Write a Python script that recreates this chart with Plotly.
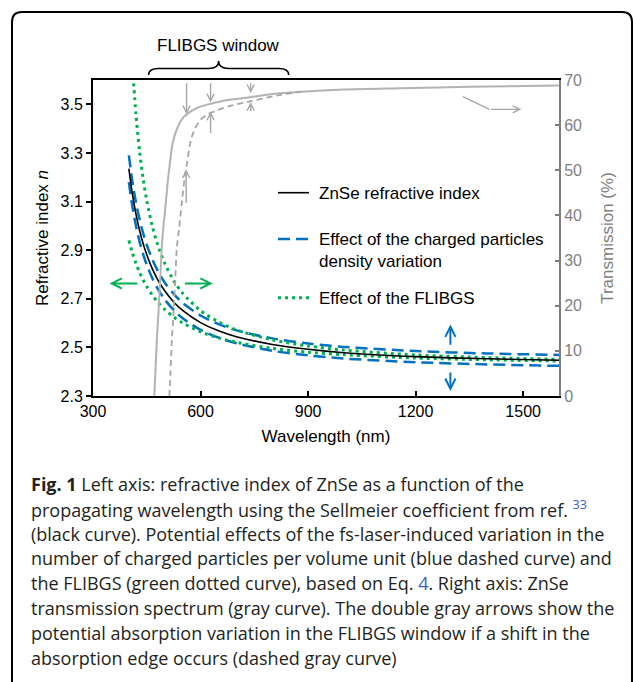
import plotly.graph_objects as go

# ---------------- data ----------------
WL = [400, 410, 420, 430, 440, 450, 465, 480, 500, 525, 550, 600, 650, 700,
      800, 900, 1000, 1200, 1400, 1600]
N_ZNSE = [3.235, 3.130, 3.047, 2.981, 2.926, 2.881, 2.825, 2.780, 2.733, 2.687,
          2.652, 2.602, 2.568, 2.544, 2.512, 2.492, 2.478, 2.462, 2.453, 2.447]
N_CHARGE_UP = [3.290, 3.181, 3.095, 3.026, 2.969, 2.922, 2.864, 2.817, 2.767, 2.720,
               2.683, 2.631, 2.596, 2.570, 2.537, 2.516, 2.502, 2.485, 2.475, 2.469]
N_CHARGE_LO = [3.180, 3.078, 2.999, 2.935, 2.883, 2.839, 2.786, 2.743, 2.697, 2.654,
               2.620, 2.572, 2.540, 2.517, 2.486, 2.467, 2.454, 2.439, 2.430, 2.424]
WL_FLIBGS_UP = [412, 420, 430, 440, 450, 465, 480, 500, 525, 550, 600, 650, 700,
                800, 900, 1000, 1200, 1400, 1600]
N_FLIBGS_UP = [3.616, 3.456, 3.306, 3.193, 3.104, 3.001, 2.924, 2.846, 2.775, 2.723,
               2.651, 2.605, 2.572, 2.531, 2.506, 2.489, 2.469, 2.458, 2.451]
N_FLIBGS_LO = [2.940, 2.888, 2.845, 2.808, 2.777, 2.750, 2.716, 2.687, 2.656, 2.625,
               2.601, 2.564, 2.539, 2.521, 2.496, 2.480, 2.470, 2.456, 2.449, 2.444]

WL_T = [471, 474, 478, 483, 487, 492, 497, 501, 508, 515, 521, 529, 540, 552, 565,
        580, 600, 627, 664, 700, 740, 800, 880, 1000, 1160, 1350, 1600]
T_ZNSE = [0, 5, 12.4, 19, 25, 33, 38, 41, 47, 52, 55.5, 58, 60.2, 61.7, 62.6,
          63.4, 64.1, 64.7, 65.4, 65.8, 66.2, 66.9, 67.4, 67.9, 68.2, 68.5, 68.8]
WL_T_SHIFT = [513, 516, 520, 525, 529, 534, 540, 548, 556, 562, 570, 576, 585, 600,
              620, 647, 680, 740, 815, 880]
T_SHIFT = [0, 5, 12.4, 19, 25, 33, 37, 43, 48.5, 51.5, 55.5, 57.5, 59.3, 61.2,
           62.4, 63.3, 64.2, 65.3, 66.6, 67.4]

X_TICKS = [300, 600, 900, 1200, 1500]
Y_TICKS = [2.3, 2.5, 2.7, 2.9, 3.1, 3.3, 3.5]
Y2_TICKS = [0, 10, 20, 30, 40, 50, 60, 70]

LEGEND = ["ZnSe refractive index",
          "Effect of the charged particles<br>density variation",
          "Effect of the FLIBGS"]

CAPTION = [
    "<b>Fig. 1</b> Left axis: refractive index of ZnSe as a function of the",
    "propagating wavelength using the Sellmeier coefficient from ref. <span style='color:#3a5fcd'><sup>33</sup></span>",
    "(black curve). Potential effects of the fs-laser-induced variation in the",
    "number of charged particles per volume unit (blue dashed curve) and",
    "the FLIBGS (green dotted curve), based on Eq. <span style='color:#3a5fcd'>4</span>. Right axis: ZnSe",
    "transmission spectrum (gray curve). The double gray arrows show the",
    "potential absorption variation in the FLIBGS window if a shift in the",
    "absorption edge occurs (dashed gray curve)",
]

# ---------------- styling ----------------
BLACK = "#000000"
BLUE = "#0070c0"
GREEN = "#00b050"
GRAY = "#b3b3b3"
GRAY_D = "#a6a6a6"
AXGRAY = "#7f7f7f"
FONT = "Arial, Liberation Sans, sans-serif"
CAPFONT = "Open Sans, Noto Sans, sans-serif"

W, H = 633, 682
L, R, T, B = 93, 559, 80, 396


def pxx(x):
    return (x - L) / (R - L)


def pxy(y):
    return (B - y) / (B - T)


fig = go.Figure()

spl = dict(shape="spline", smoothing=0.8)
fig.add_trace(go.Scatter(x=WL_T, y=T_ZNSE, yaxis="y2", mode="lines",
                         line=dict(color=GRAY, width=2, **spl), showlegend=False))
fig.add_trace(go.Scatter(x=WL_T_SHIFT, y=T_SHIFT, yaxis="y2", mode="lines",
                         line=dict(color=GRAY_D, width=1.8, dash="6px,4px", **spl),
                         showlegend=False))
fig.add_trace(go.Scatter(x=WL, y=N_CHARGE_UP, mode="lines",
                         line=dict(color=BLUE, width=2.5, dash="12px,6px", **spl),
                         showlegend=False))
fig.add_trace(go.Scatter(x=WL, y=N_CHARGE_LO, mode="lines",
                         line=dict(color=BLUE, width=2.5, dash="12px,6px", **spl),
                         showlegend=False))
fig.add_trace(go.Scatter(x=WL_FLIBGS_UP, y=N_FLIBGS_UP, mode="lines",
                         line=dict(color=GREEN, width=3, dash="3px,4px", **spl),
                         showlegend=False))
fig.add_trace(go.Scatter(x=WL, y=N_FLIBGS_LO, mode="lines",
                         line=dict(color=GREEN, width=3, dash="3px,4px", **spl),
                         showlegend=False))
fig.add_trace(go.Scatter(x=WL, y=N_ZNSE, mode="lines",
                         line=dict(color=BLACK, width=1.6, **spl), showlegend=False))

shapes = []
annotations = []

# outer rounded frame
r = 10
frame = (f"M {pxx(12)},{pxy(720)} L {pxx(12)},{pxy(12 + r)} "
         f"Q {pxx(12)},{pxy(12)} {pxx(12 + r)},{pxy(12)} "
         f"L {pxx(632 - r)},{pxy(12)} Q {pxx(632)},{pxy(12)} {pxx(632)},{pxy(12 + r)} "
         f"L {pxx(632)},{pxy(720)}")
shapes.append(dict(type="path", xref="paper", yref="paper", path=frame,
                   line=dict(color=BLACK, width=2)))

# FLIBGS window brace (x in data units)
a, b = 455, 846
c = (a + b) / 2
d = 28
y75, y68, y61 = pxy(75), pxy(68.5), pxy(61)
brace = (f"M {a},{y75} Q {a},{y68} {a + d},{y68} L {c - d},{y68} "
         f"Q {c},{y68} {c},{y61} Q {c},{y68} {c + d},{y68} "
         f"L {b - d},{y68} Q {b},{y68} {b},{y75}")
shapes.append(dict(type="path", xref="x", yref="paper", path=brace,
                   line=dict(color=BLACK, width=1.5)))
annotations.append(dict(x=c, y=pxy(45), xref="x", yref="paper", text="FLIBGS window",
                        showarrow=False, font=dict(family=FONT, size=17, color=BLACK),
                        xanchor="center", yanchor="middle"))

# legend (manual)
leg_y = [192.7, 239, 297.7]
leg_style = [dict(color=BLACK, width=1.6),
             dict(color=BLUE, width=2.5, dash="12px,6px"),
             dict(color=GREEN, width=3, dash="3px,4px")]
for yy, st, txt in zip(leg_y, leg_style, LEGEND):
    shapes.append(dict(type="line", xref="paper", yref="paper",
                       x0=pxx(278), x1=pxx(309), y0=pxy(yy), y1=pxy(yy), line=st))
    annotations.append(dict(x=pxx(317), y=pxy(yy - 11), xref="paper", yref="paper",
                            text=txt, showarrow=False, align="left",
                            xanchor="left", yanchor="top",
                            font=dict(family=FONT, size=17, color=BLACK)))


def arrow(x, y, ax, ay, color, yref="y", width=2):
    return dict(x=x, y=y, ax=ax, ay=ay, xref="x", yref=yref, axref="x", ayref=yref,
                showarrow=True, arrowhead=5, arrowsize=1, arrowwidth=width,
                arrowcolor=color, text="", standoff=0, startstandoff=0)


# green horizontal double arrow
annotations.append(arrow(346, 2.763, 428, 2.763, GREEN))
annotations.append(arrow(634, 2.763, 552, 2.763, GREEN))
# blue vertical double arrow
annotations.append(arrow(1297, 2.594, 1297, 2.505, BLUE))
annotations.append(arrow(1297, 2.321, 1297, 2.403, BLUE))

# gray arrows (transmission)
for lam, tip, tail in [(561, 62.4, 69.6), (628, 65.0, 69.6), (740, 67.1, 69.6)]:
    annotations.append(arrow(lam, tip, lam, tail, GRAY_D, yref="y2", width=1.4))
for lam, tip, tail in [(560, 50.2, 42.4), (628, 63.0, 57.9), (740, 65.1, 62.8)]:
    annotations.append(arrow(lam, tip, lam, tail, GRAY_D, yref="y2", width=1.4))
shapes.append(dict(type="line", xref="x", yref="y2", x0=1332, y0=66.3, x1=1406, y1=63.5,
                   line=dict(color=GRAY_D, width=1.4)))
annotations.append(arrow(1495, 63.5, 1406, 63.5, GRAY_D, yref="y2", width=1.4))

# caption
for i, line in enumerate(CAPTION):
    annotations.append(dict(x=pxx(29), y=pxy(484 + i * 24.8), xref="paper", yref="paper",
                            text=line, showarrow=False, xanchor="left", yanchor="middle",
                            align="left",
                            font=dict(family=CAPFONT, size=18, color="#231f20")))

fig.update_layout(
    width=W, height=H,
    margin=dict(l=L, r=W - R, t=T, b=H - B),
    paper_bgcolor="white", plot_bgcolor="white",
    showlegend=False,
    font=dict(family=FONT, size=16, color=BLACK),
    xaxis=dict(range=[300, 1600], tickvals=X_TICKS, ticks="inside", ticklen=5,
               tickwidth=1.5, tickcolor=BLACK, showline=True, linecolor=BLACK,
               linewidth=2, mirror=True, showgrid=False, zeroline=False,
               tickfont=dict(family=FONT, size=16, color=BLACK),
               title=dict(text="Wavelength (nm)", standoff=11,
                          font=dict(family=FONT, size=17, color=BLACK))),
    yaxis=dict(range=[2.3, 3.6], tickvals=Y_TICKS, tickformat=".1f", ticks="outside",
               ticklen=5, tickwidth=1.5, tickcolor=BLACK, showline=True,
               linecolor=BLACK, linewidth=2, showgrid=False, zeroline=False,
               tickfont=dict(family=FONT, size=16, color=BLACK),
               title=dict(text="Refractive index <i>n</i>", standoff=8,
                          font=dict(family=FONT, size=17, color=BLACK))),
    yaxis2=dict(range=[0, 70], tickvals=Y2_TICKS, overlaying="y", side="right",
                ticks="inside", ticklen=4, tickwidth=1.5, tickcolor=AXGRAY,
                showline=True, linecolor=AXGRAY, linewidth=2, showgrid=False,
                zeroline=False, tickfont=dict(family=FONT, size=16, color=AXGRAY),
                title=dict(text="Transmission (%)", standoff=20,
                           font=dict(family=FONT, size=17, color=AXGRAY))),
    shapes=shapes,
    annotations=annotations,
)

fig.write_html("out.html")
